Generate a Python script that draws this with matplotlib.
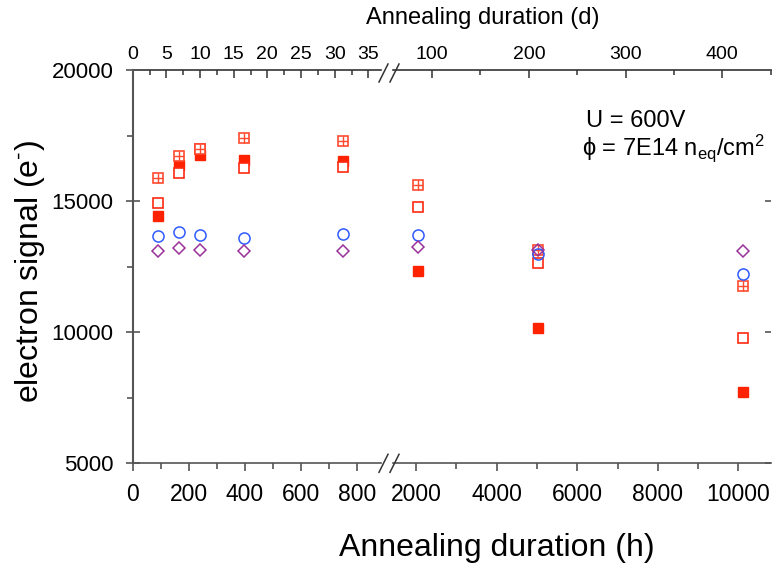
import matplotlib
matplotlib.use("Agg")
import matplotlib.pyplot as plt
from matplotlib.ticker import FixedLocator, NullFormatter
from matplotlib.lines import Line2D

plt.rcParams['font.family'] = ['Liberation Sans', 'DejaVu Sans']
plt.rcParams['mathtext.fontset'] = 'custom'
plt.rcParams['mathtext.rm'] = 'Liberation Sans'
plt.rcParams['mathtext.default'] = 'regular'

# annealing times (h) and collected charge for the five sensor types
hours = [91, 166, 241, 398, 751, 2057, 5035, 10107]
signal_crossed = [15870, 16720, 16987, 17395, 17292, 15614, 13150, 11773]
signal_open = [14916, 16060, 16980, 16274, 16313, 14786, 12627, 9790]
signal_filled = [14444, 16377, 16758, 16567, 16541, 12334, 10148, 7707]
signal_circle = [13669, 13833, 13707, 13581, 13745, 13707, 12980, 12203]
signal_diamond = [13109, 13223, 13135, 13109, 13109, 13261, 13135, 13109]

left_xticks = [0, 200, 400, 600, 800]
left_xminor = [100, 300, 500, 700]
right_xticks = [2000, 4000, 6000, 8000, 10000]
right_xminor = [3000, 5000, 7000, 9000]
left_dticks = [0, 5, 10, 15, 20, 25, 30, 35]
left_dminor = [2.5, 7.5, 12.5, 17.5, 22.5, 27.5, 32.5]
right_dticks = [100, 200, 300, 400]
right_dminor = [150, 250, 350, 450]
yticks = [5000, 10000, 15000, 20000]
yminor = [7500, 12500, 17500]

W, H = 772, 565
fig = plt.figure(figsize=(W / 100, H / 100), dpi=100)

def frac_box(x0, y0, x1, y1):
    return [x0 / W, 1 - y1 / H, (x1 - x0) / W, (y1 - y0) / H]

y_top, y_bot = 70, 463.3
axL = fig.add_axes(frac_box(132.7, y_top, 381, y_bot))
axR = fig.add_axes(frac_box(393, y_top, 770.7, y_bot))

axL.set_xlim(0, 885)
axR.set_xlim(1430, 10800)

spine_col = '#555555'
red_cross = '#ff4a30'
red_open = '#ff2a10'
red_fill = '#ff2200'
blue = '#2f5bff'
purple = '#993399'

for ax in (axL, axR):
    ax.set_ylim(5000, 20000)
    ax.plot(hours, signal_filled, ls='none', marker='s', ms=6.8,
            mfc=red_fill, mec=red_fill, mew=1.0, zorder=3)
    ax.plot(hours, signal_open, ls='none', marker='s', ms=6.8,
            mfc='white', mec=red_open, mew=1.2, zorder=4)
    ax.plot(hours, signal_crossed, ls='none', marker='s', ms=6.8,
            mfc='white', mec=red_cross, mew=1.2, zorder=5)
    ax.plot(hours, signal_crossed, ls='none', marker='+', ms=6.8,
            mec=red_cross, mew=1.0, zorder=6)
    ax.plot(hours, signal_circle, ls='none', marker='o', ms=8.0,
            mfc='none', mec=blue, mew=1.1, zorder=7)
    ax.plot(hours, signal_diamond, ls='none', marker='D', ms=6.4,
            mfc='none', mec=purple, mew=1.1, zorder=8)
    ax.spines['top'].set_visible(False)
    ax.spines['right'].set_visible(False)
    ax.spines['bottom'].set_color(spine_col)
    ax.spines['bottom'].set_linewidth(1.2)
    ax.set_facecolor('none')

axR.spines['left'].set_visible(False)
axL.spines['left'].set_color(spine_col)
axL.spines['left'].set_linewidth(1.5)

# y axis
axL.yaxis.set_major_locator(FixedLocator(yticks))
axL.yaxis.set_minor_locator(FixedLocator(yminor))
axL.tick_params(axis='y', which='major', direction='inout', length=10, width=1.2,
                color=spine_col, labelsize=16, pad=9)
axL.tick_params(axis='y', which='minor', direction='out', length=4, width=1.2,
                color=spine_col)
axR.yaxis.set_major_locator(FixedLocator(yticks))
axR.yaxis.set_minor_locator(FixedLocator([]))
axR.tick_params(axis='y', which='major', left=False, labelleft=False,
                right=True, direction='in', length=4, width=1.2, color=spine_col)

# bottom axis (hours)
axL.xaxis.set_major_locator(FixedLocator(left_xticks))
axL.xaxis.set_minor_locator(FixedLocator(left_xminor))
axR.xaxis.set_major_locator(FixedLocator(right_xticks))
axR.xaxis.set_minor_locator(FixedLocator(right_xminor))
for ax in (axL, axR):
    ax.tick_params(axis='x', which='major', direction='out', length=6, width=1.2,
                   color=spine_col, labelsize=16.5, pad=8)
    ax.tick_params(axis='x', which='minor', direction='out', length=4, width=1.2,
                   color=spine_col)

# top axis (days)
def h2d(h):
    return h / 24.0

def d2h(d):
    return d * 24.0

for ax, maj, mnr in ((axL, left_dticks, left_dminor), (axR, right_dticks, right_dminor)):
    sec = ax.secondary_xaxis('top', functions=(h2d, d2h))
    sec.xaxis.set_major_locator(FixedLocator(maj))
    sec.xaxis.set_minor_locator(FixedLocator(mnr))
    sec.xaxis.set_minor_formatter(NullFormatter())
    sec.tick_params(which='major', direction='in', length=6, width=1.1,
                    color='#333333', labelsize=14, pad=5)
    sec.tick_params(which='minor', direction='in', length=3.5, width=1.1,
                    color='#333333')
    sec.spines['top'].set_color('#333333')
    sec.spines['top'].set_linewidth(1.2)

# axis break marks
def slash(x0, y0, x1, y1):
    fig.add_artist(Line2D([x0 / W, x1 / W], [1 - y0 / H, 1 - y1 / H],
                          color='#333333', lw=1.1))

for yc in (y_top + 3, y_bot):
    slash(379, yc + 9, 388, yc - 9)
    slash(390, yc + 9, 399, yc - 9)

# labels
fig.text(483 / W, 1 - 18 / H, 'Annealing duration (d)', ha='center', va='center',
         fontsize=17)
fig.text(497 / W, 1 - 548 / H, 'Annealing duration (h)', ha='center', va='center',
         fontsize=23)
fig.text(30 / W, 1 - 271 / H, 'electron signal (e$^{\\text{-}}$)', ha='center',
         va='center', rotation=90, fontsize=23)
fig.text(586 / W, 1 - 121 / H, 'U = 600V', ha='left', va='center', fontsize=17)
fig.text(582 / W, 1 - 148 / H, '\u03d5 = 7E14 n$_{eq}$/cm$^{2}$', ha='left',
         va='center', fontsize=17, family=['Liberation Sans', 'DejaVu Sans'])

fig.savefig('out.png', dpi=100)
